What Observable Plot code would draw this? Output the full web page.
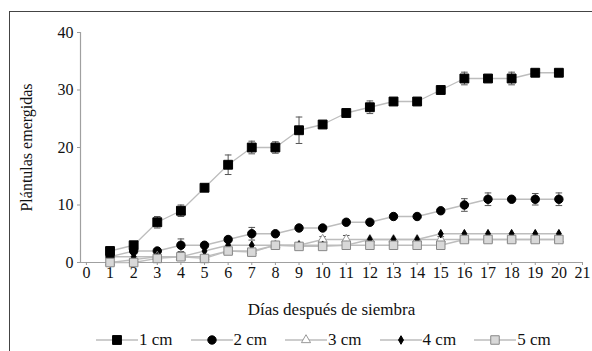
<!DOCTYPE html>
<html>
<head>
<meta charset="utf-8">
<script src="https://cdn.jsdelivr.net/npm/d3@7"></script>
<script src="https://cdn.jsdelivr.net/npm/@observablehq/plot@0.6"></script>
<style>
  html, body { margin: 0; padding: 0; background: #fff; }
  #wrap { position: relative; width: 592px; height: 351px; overflow: hidden; font-family: "Liberation Serif", "DejaVu Serif", serif; }
  #frame { position: absolute; left: 9px; top: 11px; width: 700px; height: 500px; border-left: 1.5px solid #444; border-top: 1.5px solid #444; }
  #chart { position: absolute; left: 0; top: 0; }
  #legend { position: absolute; left: 96px; top: 330px; display: flex; gap: 18px; font-size: 17px; color: #111; }
  .item { display: flex; align-items: center; gap: 1px; line-height: 20px; }
  #chart svg, #chart svg text { font-family: "Liberation Serif", "DejaVu Serif", serif !important; }
</style>
</head>
<body>
<div id="wrap">
  <div id="frame"></div>
  <div id="chart"></div>
  <div id="legend"></div>
</div>
<script>
const days = [1,2,3,4,5,6,7,8,9,10,11,12,13,14,15,16,17,18,19,20];
const seriesNames = ["1 cm","2 cm","3 cm","4 cm","5 cm"];
const v1 = [2,3,7,9,13,17,20,20,23,24,26,27,28,28,30,32,32,32,33,33];
const e1 = [0,0,1,1,0,1.7,1.1,1,2.3,0,0,1.1,0,0,0,1.1,0,1.1,0,0];
const v2 = [1,2,2,3,3,4,5,5,6,6,7,7,8,8,9,10,11,11,11,11];
const e2 = [0,0,0,1.1,0,0.4,1.1,0,0,0,0,0,0,0,0,1.1,1.1,0,1,1.1];
const v3 = [0,0.5,1,1,1,2,2,3,3,4,4,4,4,4,4,4,4,4,4,4];
const e3 = [0,0,0,0,0,0,0,0,0,0.5,0.7,0,0,0,0.5,0,0,0,0,0];
const v4 = [1,1,1,1,2,3,3,3,3,3,3,4,4,4,5,5,5,5,5,5];
const e4 = [0,0,0,0,0,0,0,0,0,0,0,0,0,0,0,0,0,0,0,0];
const v5 = [0,0,0.7,1,0.7,2,1.8,3,2.8,2.8,3,3,3,3,3,4,4,4,4,4];
const e5 = [0,0,0,0.4,0,0,0.5,0,0,0,0,0,0,0,0,0,0,0,0,0];
const xTicks = [0,1,2,3,4,5,6,7,8,9,10,11,12,13,14,15,16,17,18,19,20,21];
const yTicks = [0,10,20,30,40];

const styles = {
  "1 cm": {symbol: "square", r: 5, fill: "#000", stroke: "#000"},
  "2 cm": {symbol: "circle", r: 4.2, fill: "#000", stroke: "#000"},
  "3 cm": {symbol: "triangle", r: 3.4, fill: "#fff", stroke: "#999"},
  "4 cm": {symbol: "diamond", r: 2.6, fill: "#000", stroke: "#000"},
  "5 cm": {symbol: "square", r: 4.8, fill: "#d8d8d8", stroke: "#888"}
};

const vals = [v1, v2, v3, v4, v5];
const errs = [e1, e2, e3, e4, e5];
const rows = [];
seriesNames.forEach((s, i) => days.forEach((d, j) => rows.push({series: s, day: d, v: vals[i][j], e: errs[i][j]})));
const errRows = rows.filter(d => d.e > 0);

const marks = [
  Plot.ruleY([0], {stroke: "#a0a0a0", strokeWidth: 1.2}),
  Plot.ruleX([-0.25], {stroke: "#a0a0a0", strokeWidth: 1.2}),
  Plot.axisX({ticks: xTicks, tickSize: 3, tickPadding: 1, stroke: "#999", fill: "#111", fontSize: 16, tickFormat: d => String(d),
    label: null}),
  Plot.axisX({ticks: [], label: "Días después de siembra", labelAnchor: "center", labelArrow: "none", labelOffset: 52, fill: "#111"}),
  Plot.axisY({ticks: yTicks, tickSize: 3, tickPadding: 4, stroke: "#999", fill: "#111", fontSize: 16, tickFormat: d => String(d),
    label: null}),
  Plot.axisY({ticks: [], label: "Plántulas emergidas", labelAnchor: "center", labelArrow: "none", labelOffset: 60, fill: "#111", fontSize: 16}),
];
seriesNames.forEach(s => {
  marks.push(Plot.line(rows.filter(d => d.series === s), {x: "day", y: "v", stroke: "#bdbdbd", strokeWidth: 1.3}));
});
marks.push(Plot.ruleX(errRows, {x: "day", y1: d => d.v - d.e, y2: d => d.v + d.e, stroke: "#555", strokeWidth: 1}));
marks.push(Plot.link(errRows, {x1: d => d.day - 0.14, x2: d => d.day + 0.14, y1: d => d.v + d.e, y2: d => d.v + d.e, stroke: "#555", strokeWidth: 1}));
marks.push(Plot.link(errRows, {x1: d => d.day - 0.14, x2: d => d.day + 0.14, y1: d => d.v - d.e, y2: d => d.v - d.e, stroke: "#555", strokeWidth: 1}));
seriesNames.forEach(s => {
  const st = styles[s];
  marks.push(Plot.dot(rows.filter(d => d.series === s), {x: "day", y: "v", symbol: () => st.symbol, r: st.r, fill: st.fill, stroke: st.stroke, strokeWidth: 1}));
});

const chart = Plot.plot({
  width: 592,
  height: 322,
  marginLeft: 80,
  marginRight: 10,
  marginTop: 32,
  marginBottom: 60,
  style: {fontFamily: '"Liberation Serif", "DejaVu Serif", serif', fontSize: "17px", background: "transparent", overflow: "visible"},
  x: {domain: [-0.25, 21]},
  y: {domain: [0, 40]},
  symbol: {type: "identity"},
  marks
});
document.getElementById("chart").appendChild(chart);

// legend
const legend = document.getElementById("legend");
seriesNames.forEach(s => {
  const st = styles[s];
  const item = document.createElement("div");
  item.className = "item";
  const svg = d3.create("svg").attr("width", 42).attr("height", 20);
  svg.append("line").attr("x1", 0).attr("x2", 42).attr("y1", 10).attr("y2", 10).attr("stroke", "#bdbdbd").attr("stroke-width", 1.3);
  const sym = {square: d3.symbolSquare, circle: d3.symbolCircle, triangle: d3.symbolTriangle, diamond: d3.symbolDiamond}[st.symbol];
  svg.append("path").attr("transform", "translate(21,10)")
    .attr("d", d3.symbol(sym, Math.PI * st.r * st.r)())
    .attr("fill", st.fill).attr("stroke", st.stroke);
  item.appendChild(svg.node());
  const t = document.createElement("span");
  t.textContent = s;
  item.appendChild(t);
  legend.appendChild(item);
});
</script>
</body>
</html>
